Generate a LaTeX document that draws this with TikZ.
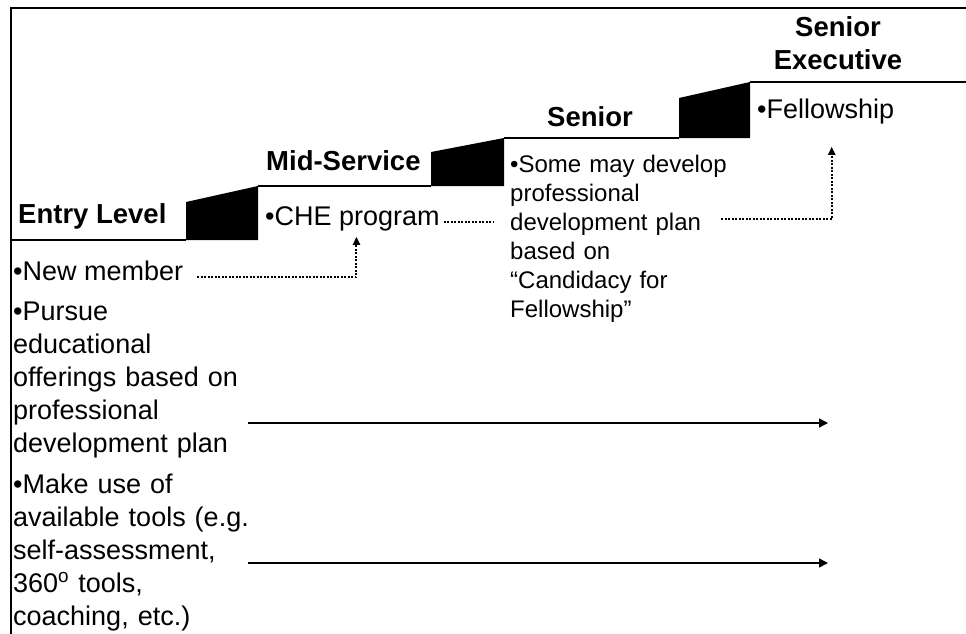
\documentclass[tikz,border=0pt]{standalone}
\usepackage{fontspec}
\setmainfont{Liberation Sans}
\usetikzlibrary{arrows.meta}
\tikzset{
  stage/.style={font=\bfseries\fontsize{27.5}{33}\selectfont, inner sep=0pt, align=center},
  item/.style={font=\fontsize{27}{33}\selectfont, inner sep=0pt, anchor=base west},
  block/.style={item, text width=250pt, align=left},
  smallitem/.style={item, font=\fontsize{24}{29}\selectfont, text width=230pt, align=left},
  dotline/.style={line width=2pt, dash pattern=on 2pt off 1.5pt},
  dotarrow/.style={dotline, -{Triangle[length=8pt,width=7pt]}},
  flow/.style={line width=1.5pt, -{Triangle[length=9pt,width=9pt]}}
}
\begin{document}
\begin{tikzpicture}[x=1pt,y=-1pt]
  \useasboundingbox (0,0) rectangle (966,634);
  \draw[line width=2pt] (11,634) -- (11,8) -- (966,8);
  \draw[line width=1.8pt]
    (11,240) -- (186,240)
    (258,186) -- (431,186)
    (504,138) -- (679,138)
    (750,82) -- (966,82);
  \fill (186,240) -- (186,202) -- (258,186) -- (258,240) -- cycle;
  \fill (431,186) -- (431,152) -- (504,138) -- (504,186) -- cycle;
  \fill (679,138) -- (679,98) -- (750,82) -- (750,138) -- cycle;
  \draw
    (18,223) node[stage, anchor=base west] (entry) {Entry Level}
    (266,170) node[stage, anchor=base west] (mid) {Mid-Service}
    (590,126) node[stage, anchor=base] (senior) {Senior}
    (838,70) node[stage, anchor=base] (srexec) {Senior\\Executive}
    (13,280) node[item] (newmember) {•New member}
    (13,320) node[block] (pursue) {•Pursue\\educational\\offerings based on\\professional\\development plan}
    (13,493) node[block] (makeuse) {•Make use of\\available tools (e.g.\\self-assessment,\\360\textsuperscript{o} tools,\\coaching, etc.)}
    (265,225) node[item] (che) {•CHE program}
    (510,172) node[smallitem] (srplan) {•Some may develop\\professional\\development plan\\based on\\“Candidacy for\\Fellowship”}
    (757,118) node[item] (fellow) {•Fellowship};
  \coordinate (planin) at (494,222);
  \coordinate (planout) at (721,219);
  \coordinate (end1) at (828,423);
  \coordinate (end2) at (828,563);
  \begin{scope}
    \draw[dotarrow] ([shift={(14,-3)}]newmember.base east) -| ([shift={(4,6)}]che.south);
    \draw[dotline] ([shift={(4,-3)}]che.base east) -- (planin);
    \draw[dotarrow] (planout) -| ([shift={(6,23)}]fellow.south);
    \draw[flow] ([xshift=-15pt]pursue.east |- end1) -- (end1);
    \draw[flow] ([xshift=-15pt]makeuse.east |- end2) -- (end2);
  \end{scope}
\end{tikzpicture}
\end{document}
